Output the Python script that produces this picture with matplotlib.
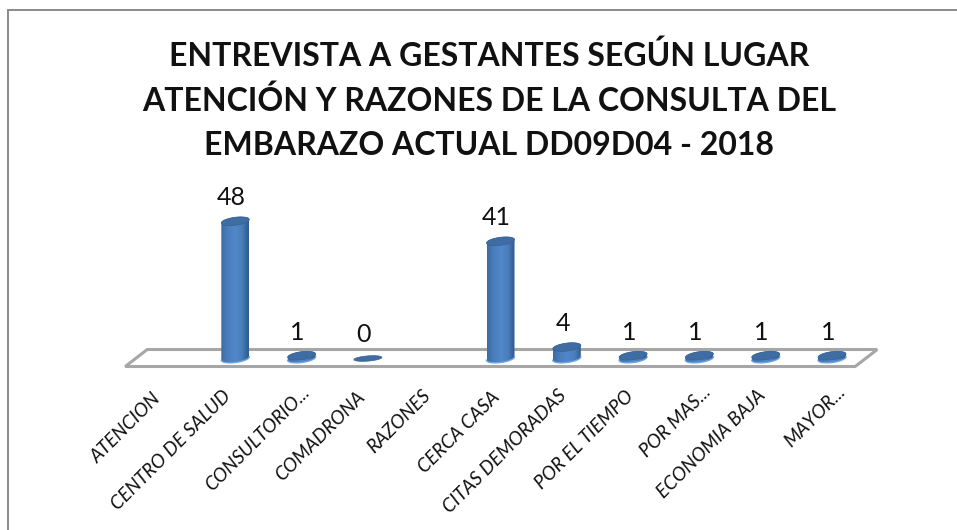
import numpy as np
import matplotlib
matplotlib.use("Agg")
import matplotlib.pyplot as plt
from matplotlib.patches import Polygon, Rectangle

categories = ["ATENCION", "CENTRO DE SALUD", "CONSULTORIO...", "COMADRONA", "RAZONES",
              "CERCA CASA", "CITAS DEMORADAS", "POR EL TIEMPO", "POR MAS...",
              "ECONOMIA BAJA", "MAYOR..."]
values = [None, 48, 1, 0, None, 41, 4, 1, 1, 1, 1]
title_lines = ["ENTREVISTA A GESTANTES SEGÚN LUGAR",
               "ATENCIÓN Y RAZONES DE LA CONSULTA DEL",
               "EMBARAZO ACTUAL DD09D04 - 2018"]

W, H = 957, 530
# pixel scale of the chart
X0, DX = 169.0, 66.3
Y0, DY = 358.5, 2.86

plt.rcParams['font.family'] = ['Lato', 'DejaVu Sans']

fig = plt.figure(figsize=(W / 100, H / 100), dpi=100)
ax = fig.add_axes([0, 0, 1, 1])
ax.set_xlim((0 - X0) / DX, (W - X0) / DX)
ax.set_ylim((Y0 - H) / DY, (Y0 - 0) / DY)
ax.axis("off")

# outer frame
fig.add_artist(Rectangle((8 / W, -0.01), (W + 5) / W, 1.01 - 10 / H, transform=fig.transFigure,
                         fill=False, ec="#8a8a8a", lw=1.4))

for line, y in zip(title_lines, [56, 101, 146]):
    fig.text(489 / W, 1 - y / H, line, ha="center", va="center", fontsize=23,
             fontweight="bold", color="#111111")

# floor of the 3d plot
a, b = 14 / DX, 4.0 / DY
tilt = 1.7 / DY
floor_l, floor_r = -0.66, 10.35
skew, depth = 22 / DX, 17 / DY
floor_base = -8 / DY
floor = Polygon([(floor_l, floor_base), (floor_r, floor_base),
                 (floor_r + skew, floor_base + depth), (floor_l + skew, floor_base + depth)],
                closed=True, fc="white", ec="#a6a6a6", lw=2.2, zorder=1)
ax.add_patch(floor)

cmap = matplotlib.colors.LinearSegmentedColormap.from_list(
    "cyl", ["#3d6ca3", "#4a7fbe", "#5288c9", "#4a7ebc", "#2f5a8c"])
grad = np.linspace(0, 1, 64).reshape(1, -1)
t = np.linspace(0, np.pi, 40)


def arc(cx, cy, tt):
    return cx + a * np.cos(tt), cy + b * np.sin(tt) + tilt * np.cos(tt)


for i, v in enumerate(values):
    if v is None:
        continue
    if v > 0:
        # body: lower half of base ellipse + upper half of top ellipse
        xb, yb = arc(i, 0, t + np.pi)
        xt, yt = arc(i, v, t)
        body = Polygon(np.c_[np.r_[xb, xt], np.r_[yb, yt]], closed=True, fc="none", ec="none",
                       transform=ax.transData)
        ax.add_patch(body)
        im = ax.imshow(grad, extent=(i - a, i + a, -b - tilt, v + b + tilt), cmap=cmap,
                       aspect="auto", zorder=3)
        im.set_clip_path(body)
        # light rim at the base
        xr, yr = arc(i, 0, t + np.pi)
        ax.plot(xr, yr, color="#6ea5e2", lw=1.0, zorder=3.2)
    xc, yc = arc(i, v, np.linspace(0, 2 * np.pi, 80))
    if v == 0:
        yc = v + (yc - v) * 0.65
    ax.add_patch(Polygon(np.c_[xc, yc], closed=True, fc="#3f6da3", ec="#39628f", lw=0.5, zorder=4))
    ax.annotate(str(v), (i, v), xytext=(-4 * 0.72, 23.5 * 0.72), textcoords="offset points",
                ha="center", va="center", fontsize=18, color="#111111")

ax.set_xlim((0 - X0) / DX, (W - X0) / DX)
ax.set_ylim((Y0 - H) / DY, (Y0 - 0) / DY)

# rotated category labels, anchored at their top right end
ends_px = [(158, 396), (228, 393), (307, 389), (362, 394), (428, 393), (497, 394),
           (563, 393), (631, 393), (708, 389), (763, 393), (842, 389)]
for lab, (ex, ey) in zip(categories, ends_px):
    fig.text(ex / W, 1 - ey / H, lab, rotation=45, rotation_mode="anchor", ha="right", va="center",
             fontsize=13.7, fontstyle="italic", color="#111111")

fig.savefig("out.png", dpi=100)
